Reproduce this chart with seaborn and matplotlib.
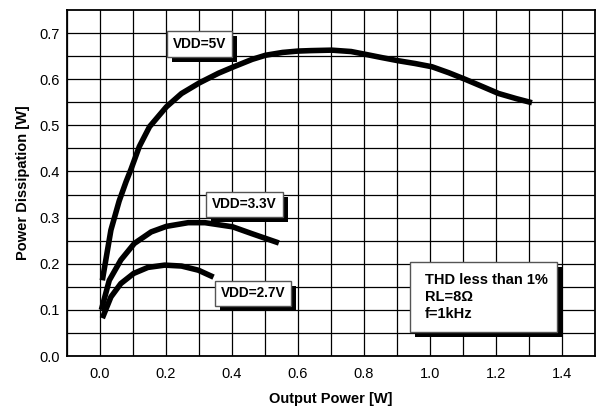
import matplotlib
matplotlib.use("Agg")
import matplotlib.pyplot as plt
import matplotlib.patheffects as pe
from matplotlib.patches import Rectangle
import numpy as np
import pandas as pd
import seaborn as sns

# ---- data ----
x_5v = [0.007, 0.033, 0.058, 0.079, 0.094, 0.119, 0.150, 0.201, 0.247, 0.301, 0.359, 0.402,
        0.461, 0.502, 0.553, 0.600, 0.639, 0.702, 0.761, 0.804, 0.853, 0.904, 0.955, 1.006, 1.057,
        1.106, 1.159, 1.208, 1.261, 1.309]
y_5v = [0.164, 0.273, 0.336, 0.378, 0.405, 0.454, 0.497, 0.540, 0.569, 0.592, 0.613, 0.626,
        0.643, 0.652, 0.658, 0.661, 0.662, 0.663, 0.660, 0.654, 0.647, 0.640, 0.634, 0.627, 0.614,
        0.600, 0.584, 0.569, 0.558, 0.549]
x_33v = [0.004, 0.028, 0.063, 0.104, 0.155, 0.201, 0.267, 0.318, 0.402, 0.461, 0.542]
y_33v = [0.100, 0.164, 0.208, 0.244, 0.269, 0.281, 0.289, 0.289, 0.280, 0.265, 0.245]
x_27v = [0.007, 0.033, 0.063, 0.102, 0.145, 0.196, 0.247, 0.298, 0.344]
y_27v = [0.082, 0.128, 0.157, 0.179, 0.192, 0.197, 0.195, 0.186, 0.171]
series_names = ["VDD=5V", "VDD=3.3V", "VDD=2.7V"]
x_ticks = [0.0, 0.2, 0.4, 0.6, 0.8, 1.0, 1.2, 1.4]
y_ticks = [0.0, 0.1, 0.2, 0.3, 0.4, 0.5, 0.6, 0.7]
x_label = "Output Power [W]"
y_label = "Power Dissipation [W]"
note_lines = ["THD less than 1%", "RL=8Ω", "f=1kHz"]

df = pd.concat([
    pd.DataFrame({"x": x_5v, "y": y_5v, "s": series_names[0]}),
    pd.DataFrame({"x": x_33v, "y": y_33v, "s": series_names[1]}),
    pd.DataFrame({"x": x_27v, "y": y_27v, "s": series_names[2]}),
], ignore_index=True)

sns.set_style("white")
plt.rcParams['font.family'] = ['Liberation Sans', 'DejaVu Sans']
plt.rcParams['text.color'] = 'black'
plt.rcParams['axes.labelcolor'] = 'black'
plt.rcParams['xtick.color'] = 'black'
plt.rcParams['ytick.color'] = 'black'

fig = plt.figure(figsize=(5.99, 4.07), dpi=100)
ax = fig.add_axes([0.1119, 0.1253, 0.8814, 0.8501])

sns.lineplot(data=df, x="x", y="y", hue="s", palette=["black"] * 3, sort=False,
             estimator=None, linewidth=4.0, legend=False, ax=ax, zorder=3)
for l in ax.lines:
    l.set_solid_capstyle("butt")
    l.set_solid_joinstyle("round")

ax.set_xlim(-0.1, 1.5)
ax.set_ylim(0.0, 0.75)
ax.set_xticks(x_ticks)
ax.set_yticks(y_ticks)
ax.set_xticks(np.arange(-0.1, 1.5, 0.1), minor=True)
ax.set_yticks(np.arange(0.0, 0.75, 0.05), minor=True)
ax.grid(True, which="both", color="black", linewidth=0.9)
ax.tick_params(which="both", length=0, labelsize=10.5, labelcolor="black")
ax.tick_params(axis="x", pad=8)
ax.tick_params(axis="y", pad=5)
ax.set_xticklabels([f"{v:.1f}" for v in x_ticks])
ax.set_yticklabels([f"{v:.1f}" for v in y_ticks])
for sp in ax.spines.values():
    sp.set_color("black")
    sp.set_linewidth(1.3)
ax.set_xlabel(x_label, fontsize=10.5, fontweight="bold", labelpad=8, color="black")
ax.set_ylabel(y_label, fontsize=10.5, fontweight="bold", labelpad=7, color="black")

shadow = [pe.withSimplePatchShadow(offset=(3.6, -3.6), shadow_rgbFace="black", alpha=1.0)]

def label(xv, yv, txt, fs=9.8, pad=0.42):
    t = ax.text(xv, yv, txt, fontsize=fs, fontweight="bold", ha="center", va="center", zorder=5,
                color="black",
                bbox=dict(boxstyle=f"square,pad={pad}", facecolor="white", edgecolor="#555555", linewidth=1.0))
    t.get_bbox_patch().set_path_effects(shadow)
    return t

label(0.302, 0.676, series_names[0])
label(0.438, 0.329, series_names[1])
label(0.464, 0.136, series_names[2])

box = Rectangle((0.939, 0.052), 0.446, 0.152, facecolor="white", edgecolor="#555555",
                linewidth=1.0, zorder=5, path_effects=shadow)
ax.add_patch(box)
ax.text(0.985, 0.128, "\n".join(note_lines), fontsize=10.5, fontweight="bold", ha="left",
        va="center", linespacing=1.25, zorder=6, color="black")

fig.savefig("out.png", dpi=100)
